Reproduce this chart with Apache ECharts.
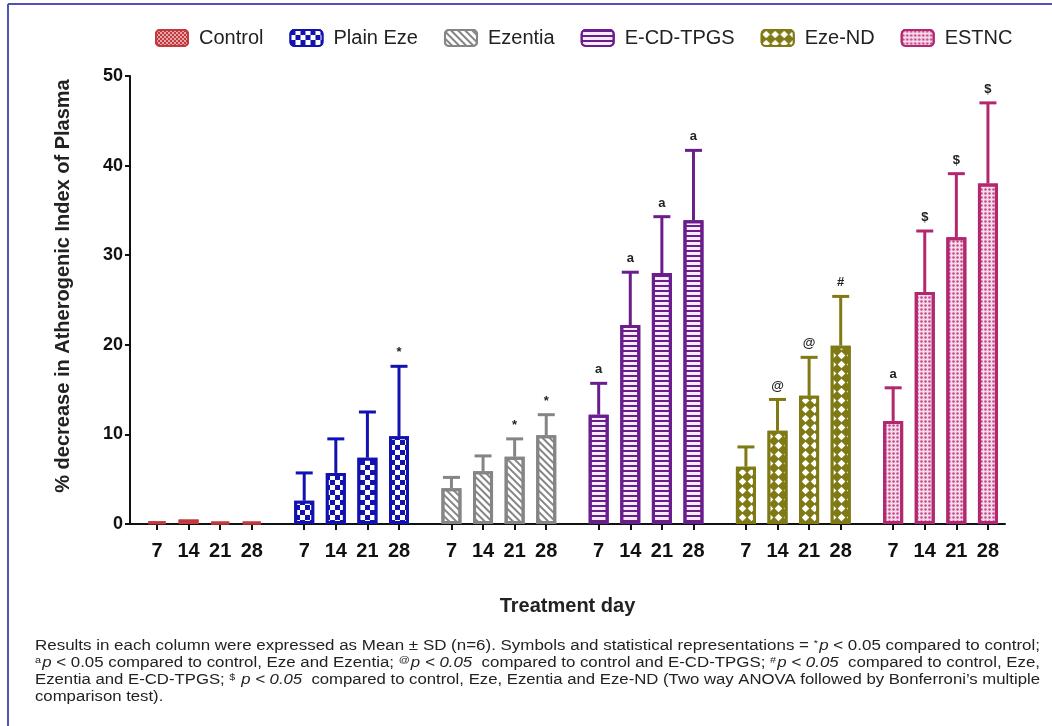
<!DOCTYPE html>
<html>
<head>
<meta charset="utf-8">
<script src="https://cdn.jsdelivr.net/npm/echarts@6/dist/echarts.min.js"></script>
<style>
  html, body { margin: 0; padding: 0; background: #fff; }
  #chart { width: 1052px; height: 726px; }
</style>
</head>
<body>
<div id="chart"></div>
<script>
// Treatment days and formulation groups
const days = ['7', '14', '21', '28'];
const groups = ['Control', 'Plain Eze', 'Ezentia', 'E-CD-TPGS', 'Eze-ND', 'ESTNC'];

// Mean % decrease in AIP per group and day
const controlMean  = [0.3, 0.5, 0.2, 0.2];
const plainEzeMean = [2.6, 5.7, 7.4, 9.8];
const ezentiaMean  = [4.0, 5.9, 7.5, 9.9];
const ecdTpgsMean  = [12.2, 22.2, 28.0, 33.9];
const ezeNdMean    = [6.4, 10.4, 14.3, 19.9];
const estncMean    = [11.5, 25.9, 32.0, 38.0];

// Standard deviations (upper error bars)
const controlSd  = [0, 0, 0, 0];
const plainEzeSd = [3.1, 3.8, 5.1, 7.8];
const ezentiaSd  = [1.2, 1.7, 2.0, 2.3];
const ecdTpgsSd  = [3.5, 5.9, 6.3, 7.8];
const ezeNdSd    = [2.2, 3.5, 4.3, 5.5];
const estncSd    = [3.7, 6.8, 7.1, 9.0];

// Significance marks above each bar
const controlSig  = ['', '', '', ''];
const plainEzeSig = ['', '', '', '*'];
const ezentiaSig  = ['', '', '*', '*'];
const ecdTpgsSig  = ['a', 'a', 'a', 'a'];
const ezeNdSig    = ['', '@', '@', '#'];
const estncSig    = ['a', '$', '$', '$'];

const yTicks = [0, 10, 20, 30, 40, 50];

// Footnote lines, split into plain (n), italic (i) and superscript (sup) runs
const footnoteLines = [
  [['n', 'Results in each column were expressed as Mean ± SD (n=6). Symbols and statistical representations = '], ['sup', '*'], ['i', 'p'], ['n', ' < 0.05 compared to control;']],
  [['sup', 'a'], ['i', 'p'], ['n', ' < 0.05 compared to control, Eze and Ezentia; '], ['sup', '@'], ['i', 'p < 0.05'], ['n', '  compared to control and E-CD-TPGS; '], ['sup', '#'], ['i', 'p < 0.05'], ['n', '  compared to control, Eze,']],
  [['n', 'Ezentia and E-CD-TPGS; '], ['sup', '$'], ['n', ' '], ['i', 'p < 0.05'], ['n', '  compared to control, Eze, Ezentia and Eze-ND (Two way ANOVA followed by Bonferroni\u2019s multiple']],
  [['n', 'comparison test).']]
];

const means = [controlMean, plainEzeMean, ezentiaMean, ecdTpgsMean, ezeNdMean, estncMean];
const sds = [controlSd, plainEzeSd, ezentiaSd, ecdTpgsSd, ezeNdSd, estncSd];
const sigs = [controlSig, plainEzeSig, ezentiaSig, ecdTpgsSig, ezeNdSig, estncSig];

// Layout: slot position of each bar along the x axis (one unit per day, gap between groups)
const GROUP_STRIDE = 4.66;
const pos = (g, d) => +(g * GROUP_STRIDE + d).toFixed(3);

const colors = ['#c23a3e', '#1212b0', '#858585', '#6a1e8c', '#7f7a14', '#b2286f'];
const fills = ['#c23a3e', '#1212b0', '#ffffff', '#f6ecf7', '#7f7a14', '#f6dbe9'];
const decals = [
  { symbol: 'rect', symbolSize: 1, color: 'rgba(255,255,255,0.55)', dashArrayX: [[2, 2], [0, 2, 2, 0]], dashArrayY: [2, 0] },
  { symbol: 'rect', symbolSize: 1, color: '#ffffff', dashArrayX: [[4.5, 4.5], [0, 4.5, 4.5, 0]], dashArrayY: [4.5, 0] },
  { symbol: 'rect', symbolSize: 1, color: '#858585', dashArrayX: [1, 0], dashArrayY: [1.6, 2.6], rotation: Math.PI / 4 },
  { symbol: 'rect', symbolSize: 1, color: '#6a1e8c', dashArrayX: [1, 0], dashArrayY: [2, 3], rotation: 0 },
  { symbol: 'diamond', symbolSize: 0.85, color: '#ffffff', dashArrayX: [9, 0], dashArrayY: [9, 0] },
  { symbol: 'circle', symbolSize: 0.8, color: '#c2468a', dashArrayX: [3, 1], dashArrayY: [3, 1] }
];

const tickValues = [];
const tickLabel = {};
groups.forEach((g, gi) => days.forEach((d, di) => {
  const p = pos(gi, di);
  tickValues.push(p);
  tickLabel[p.toFixed(3)] = d;
}));

const FONT = '"Liberation Sans", Arial, sans-serif';

const series = [];
groups.forEach((name, gi) => {
  series.push({
    name: name,
    type: 'bar',
    barWidth: 20,
    barGap: '-100%',
    data: means[gi].map((v, di) => [pos(gi, di), v]),
    itemStyle: {
      color: fills[gi],
      borderColor: colors[gi],
      borderWidth: 3,
      decal: decals[gi]
    },
    emphasis: { disabled: true },
    z: 2
  });
});

// Upper error bars with caps and significance marks
const errData = [];
groups.forEach((name, gi) => days.forEach((d, di) => {
  errData.push([pos(gi, di), means[gi][di], means[gi][di] + sds[gi][di], gi, di]);
}));
series.push({
  type: 'custom',
  z: 3,
  data: errData,
  renderItem: function (params, api) {
    const x = api.value(0);
    const base = api.coord([x, api.value(1)]);
    const top = api.coord([x, api.value(2)]);
    const gi = api.value(3), di = api.value(4);
    const col = colors[gi];
    const children = [];
    if (sds[gi][di] > 0) {
      children.push({
        type: 'line',
        shape: { x1: base[0], y1: base[1], x2: top[0], y2: top[1] },
        style: { stroke: col, lineWidth: 3 }
      });
      children.push({
        type: 'line',
        shape: { x1: top[0] - 8.5, y1: top[1], x2: top[0] + 8.5, y2: top[1] },
        style: { stroke: col, lineWidth: 3 }
      });
    }
    const s = sigs[gi][di];
    if (s) {
      children.push({
        type: 'text',
        style: {
          text: s, x: top[0], y: top[1] - 7,
          align: 'center', verticalAlign: 'bottom',
          font: 'bold 13px ' + FONT, fill: '#222'
        }
      });
    }
    return { type: 'group', children: children };
  }
});

// Footnote: each line stretched to span the text block width
const NOTE_FONT = 14, SUP_FONT = 9;
const mctx = document.createElement('canvas').getContext('2d');
const runFont = k => (k === 'i' ? 'italic ' : '') + (k === 'sup' ? SUP_FONT : NOTE_FONT) + 'px ' + FONT;
const noteLeft = 35, noteRight = 1040, noteTop = 639, noteLine = 17;
const lineScales = footnoteLines.map(runs => {
  let w = 0;
  runs.forEach(([k, t]) => { mctx.font = runFont(k); w += mctx.measureText(t).width + (k === 'sup' ? 1 : 0); });
  return (noteRight - noteLeft) / w;
});
const noteGraphics = footnoteLines.map((runs, li) => {
  const esc = t => t.replace(/[{}|]/g, '');
  const text = runs.map(([k, t]) => k === 'n' ? t : '{' + k + '|' + esc(t) + '}').join('');
  const sc = li === footnoteLines.length - 1 ? lineScales[li - 1] : lineScales[li];
  return {
    type: 'text',
    x: noteLeft, y: noteTop + li * noteLine,
    scaleX: sc,
    style: {
      text: text,
      font: NOTE_FONT + 'px ' + FONT,
      fill: '#222',
      verticalAlign: 'top',
      align: 'left',
      rich: {
        sup: { fontSize: SUP_FONT, fontFamily: FONT, fill: '#222', verticalAlign: 'top', padding: [0, 1, 6, 0] },
        i: { fontStyle: 'italic', fontSize: NOTE_FONT, fontFamily: FONT, fill: '#222' }
      }
    }
  };
});

const chart = echarts.init(document.getElementById('chart'), null, { renderer: 'canvas' });
chart.setOption({
  animation: false,
  backgroundColor: '#ffffff',
  legend: {
    data: groups,
    top: 23,
    left: 150,
    itemWidth: 32,
    itemHeight: 16,
    itemGap: 26,
    icon: 'roundRect',
    textStyle: { fontSize: 20, color: '#222', fontFamily: FONT, padding: [0, 0, 0, 6] }
  },
  grid: { left: 130, right: 47, top: 76, bottom: 202, containLabel: false },
  xAxis: {
    type: 'value',
    min: -0.854,
    max: 26.84,
    splitLine: { show: false },
    axisLine: { show: true, onZero: false, lineStyle: { color: '#111', width: 2 } },
    axisTick: { show: true, customValues: tickValues, length: 6, lineStyle: { color: '#111', width: 2 } },
    axisLabel: {
      customValues: tickValues,
      formatter: v => tickLabel[(+v).toFixed(3)] || '',
      fontSize: 20, fontWeight: 'bold', color: '#111', fontFamily: FONT, margin: 17
    },
    name: 'Treatment day',
    nameLocation: 'middle',
    nameGap: 72,
    nameTextStyle: { fontSize: 20, fontWeight: 'bold', color: '#222', fontFamily: FONT }
  },
  yAxis: {
    type: 'value',
    min: 0,
    max: 50,
    interval: 10,
    splitLine: { show: false },
    axisLine: { show: true, onZero: false, lineStyle: { color: '#111', width: 2 } },
    axisTick: { show: true, length: 5, lineStyle: { color: '#111', width: 2 } },
    axisLabel: {
      formatter: v => yTicks.includes(v) ? String(v) : '',
      fontSize: 18, fontWeight: 'bold', color: '#111', fontFamily: FONT, margin: 7
    },
    name: '% decrease in Atherogenic Index of Plasma',
    nameLocation: 'middle',
    nameGap: 57,
    nameTextStyle: { fontSize: 20, fontWeight: 'bold', color: '#222', fontFamily: FONT, padding: [0, 0, 0, 28] }
  },
  graphic: [
    { type: 'line', shape: { x1: 8, y1: 4, x2: 1052, y2: 4 }, style: { stroke: '#4b55b6', lineWidth: 2 } },
    { type: 'line', shape: { x1: 8, y1: 4, x2: 8, y2: 726 }, style: { stroke: '#4b55b6', lineWidth: 2 } }
  ].concat(noteGraphics),
  series: series
});
</script>
</body>
</html>
